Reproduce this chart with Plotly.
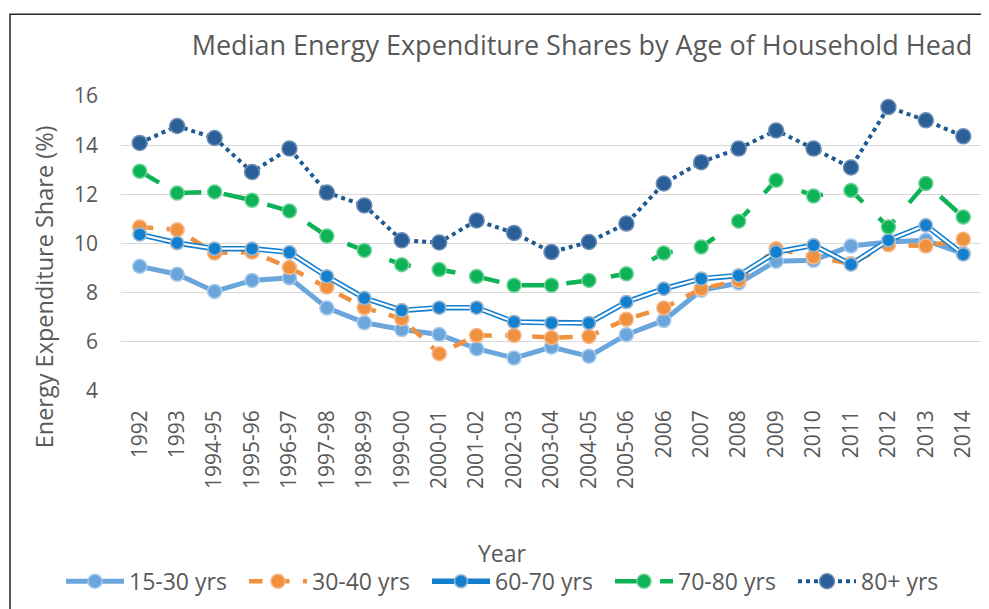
import plotly.graph_objects as go

years = ["1992", "1993", "1994-95", "1995-96", "1996-97", "1997-98", "1998-99",
         "1999-00", "2000-01", "2001-02", "2002-03", "2003-04", "2004-05", "2005-06",
         "2006", "2007", "2008", "2009", "2010", "2011", "2012", "2013", "2014"]

age_15_30 = [9.07, 8.75, 8.05, 8.5, 8.6, 7.38, 6.78, 6.5, 6.3, 5.72, 5.34, 5.79,
             5.41, 6.29, 6.87, 8.1, 8.39, 9.28, 9.32, 9.9, 10.06, 10.13, 9.59]
age_30_40 = [10.67, 10.56, 9.61, 9.65, 9.02, 8.23, 7.39, 6.94, 5.52, 6.26, 6.26, 6.17,
             6.22, 6.92, 7.38, 8.16, 8.5, 9.79, 9.45, 9.18, 9.95, 9.9, 10.17]
age_60_70 = [10.37, 10.02, 9.79, 9.79, 9.64, 8.66, 7.78, 7.28, 7.39, 7.39, 6.81, 6.77,
             6.77, 7.62, 8.16, 8.57, 8.7, 9.65, 9.93, 9.15, 10.13, 10.74, 9.56]
age_70_80 = [12.94, 12.05, 12.1, 11.76, 11.32, 10.3, 9.72, 9.14, 8.94, 8.66, 8.3, 8.3,
             8.5, 8.77, 9.61, 9.86, 10.91, 12.57, 11.93, 12.16, 10.67, 12.44, 11.08]
age_80_plus = [14.09, 14.78, 14.29, 12.91, 13.86, 12.07, 11.55, 10.13, 10.04, 10.94, 10.43, 9.65,
               10.06, 10.81, 12.44, 13.31, 13.86, 14.6, 13.86, 13.09, 15.55, 15.01, 14.36]

y_ticks = [4, 6, 8, 10, 12, 14, 16]

FONT = "Open Sans"
GRAY = "#595959"

# page body has an 8px margin: work in figure pixel coordinates
OFF = 8
W, H = 989 - OFF, 609 - OFF
PL, PR = 121 - OFF, 982 - OFF          # plot area left/right (figure px)
PT, PB = 95.7 - OFF, 390.7 - OFF       # plot area top/bottom (figure px)
PW, PH = PR - PL, PB - PT


def px(xw):
    return (xw - OFF - PL) / PW


def py(yw):
    return (PB - (yw - OFF)) / PH


fig = go.Figure()

fig.add_trace(go.Scatter(
    x=years, y=age_15_30, name="15-30 yrs", mode="lines+markers",
    line=dict(color="#6AA5DC", width=5),
    marker=dict(size=14, color="#6AA5DC", line=dict(color="#A9CBEC", width=1.5))))

fig.add_trace(go.Scatter(
    x=years, y=age_30_40, name="30-40 yrs", mode="lines+markers",
    line=dict(color="#F0913F", width=4.5, dash="dash"),
    marker=dict(size=14, color="#F0913F", line=dict(color="#F5B98A", width=1.5))))

fig.add_trace(go.Scatter(
    x=years, y=age_60_70, name="60-70 yrs", mode="lines+markers",
    line=dict(color="#1380CF", width=5.5),
    marker=dict(size=13, color="#1380CF", line=dict(color="#9EB6CC", width=1.5))))
fig.add_trace(go.Scatter(
    x=years, y=age_60_70, name="60-70 inner", mode="lines", showlegend=False,
    hoverinfo="skip", line=dict(color="white", width=2.2)))
fig.add_trace(go.Scatter(
    x=years, y=age_60_70, name="60-70 markers", mode="markers", showlegend=False,
    hoverinfo="skip",
    marker=dict(size=13, color="#1380CF", line=dict(color="#9EB6CC", width=1.5))))

fig.add_trace(go.Scatter(
    x=years, y=age_70_80, name="70-80 yrs", mode="lines+markers",
    line=dict(color="#0DB356", width=4.5, dash="longdash"),
    marker=dict(size=14, color="#0DB356", line=dict(color="#6FD39A", width=1.5))))

fig.add_trace(go.Scatter(
    x=years, y=age_80_plus, name="80+ yrs", mode="lines+markers",
    line=dict(color="#1F5A93", width=4, dash="dot"),
    marker=dict(size=15, color="#2A5F98", line=dict(color="#6F8FB5", width=1.5))))

fig.update_layout(
    width=W, height=H,
    margin=dict(l=PL, r=W - PR, t=PT, b=H - PB, pad=0, autoexpand=False),
    paper_bgcolor="white", plot_bgcolor="white",
    font=dict(family=FONT, color=GRAY, size=20),
    title=dict(text="Median Energy Expenditure Shares by Age of Household Head",
               x=px(582), xref="paper", xanchor="center",
               y=1 - (46 - OFF) / H, yref="container", yanchor="middle",
               font=dict(family=FONT, size=27, color=GRAY)),
    xaxis=dict(type="category", range=[-0.5, 22.5], tickangle=-90,
               showgrid=False, zeroline=False, showline=False, ticks="",
               ticklabelstandoff=14,
               tickfont=dict(family=FONT, size=21, color=GRAY)),
    yaxis=dict(range=[4, 16], tickvals=y_ticks, showgrid=True, gridcolor="#D9D9D9",
               gridwidth=1.3, zeroline=False, showline=False, ticks="",
               ticklabelstandoff=22,
               tickfont=dict(family=FONT, size=21, color=GRAY)),
    legend=dict(orientation="h", x=px(61), xanchor="left", y=py(581), yanchor="middle",
                font=dict(family=FONT, size=23, color=GRAY), itemwidth=58,
                entrywidth=110, entrywidthmode="pixels",
                bgcolor="rgba(0,0,0,0)", tracegroupgap=0),
    showlegend=True,
    annotations=[
        dict(text="Year", xref="paper", yref="paper",
             x=px(502), y=py(553),
             xanchor="center", yanchor="middle", showarrow=False,
             font=dict(family=FONT, size=23, color=GRAY)),
        dict(text="Energy Expenditure Share (%)", xref="paper", yref="paper",
             x=px(44), y=py(287), textangle=-90,
             xanchor="center", yanchor="middle", showarrow=False,
             font=dict(family=FONT, size=23.5, color=GRAY)),
    ],
    shapes=[
        dict(type="rect", xref="paper", yref="paper", layer="below",
             x0=px(10), x1=1.5, y0=-2.0, y1=py(14),
             line=dict(color="#262626", width=1.5), fillcolor="rgba(0,0,0,0)"),
    ],
)

fig.write_html("out.html")
